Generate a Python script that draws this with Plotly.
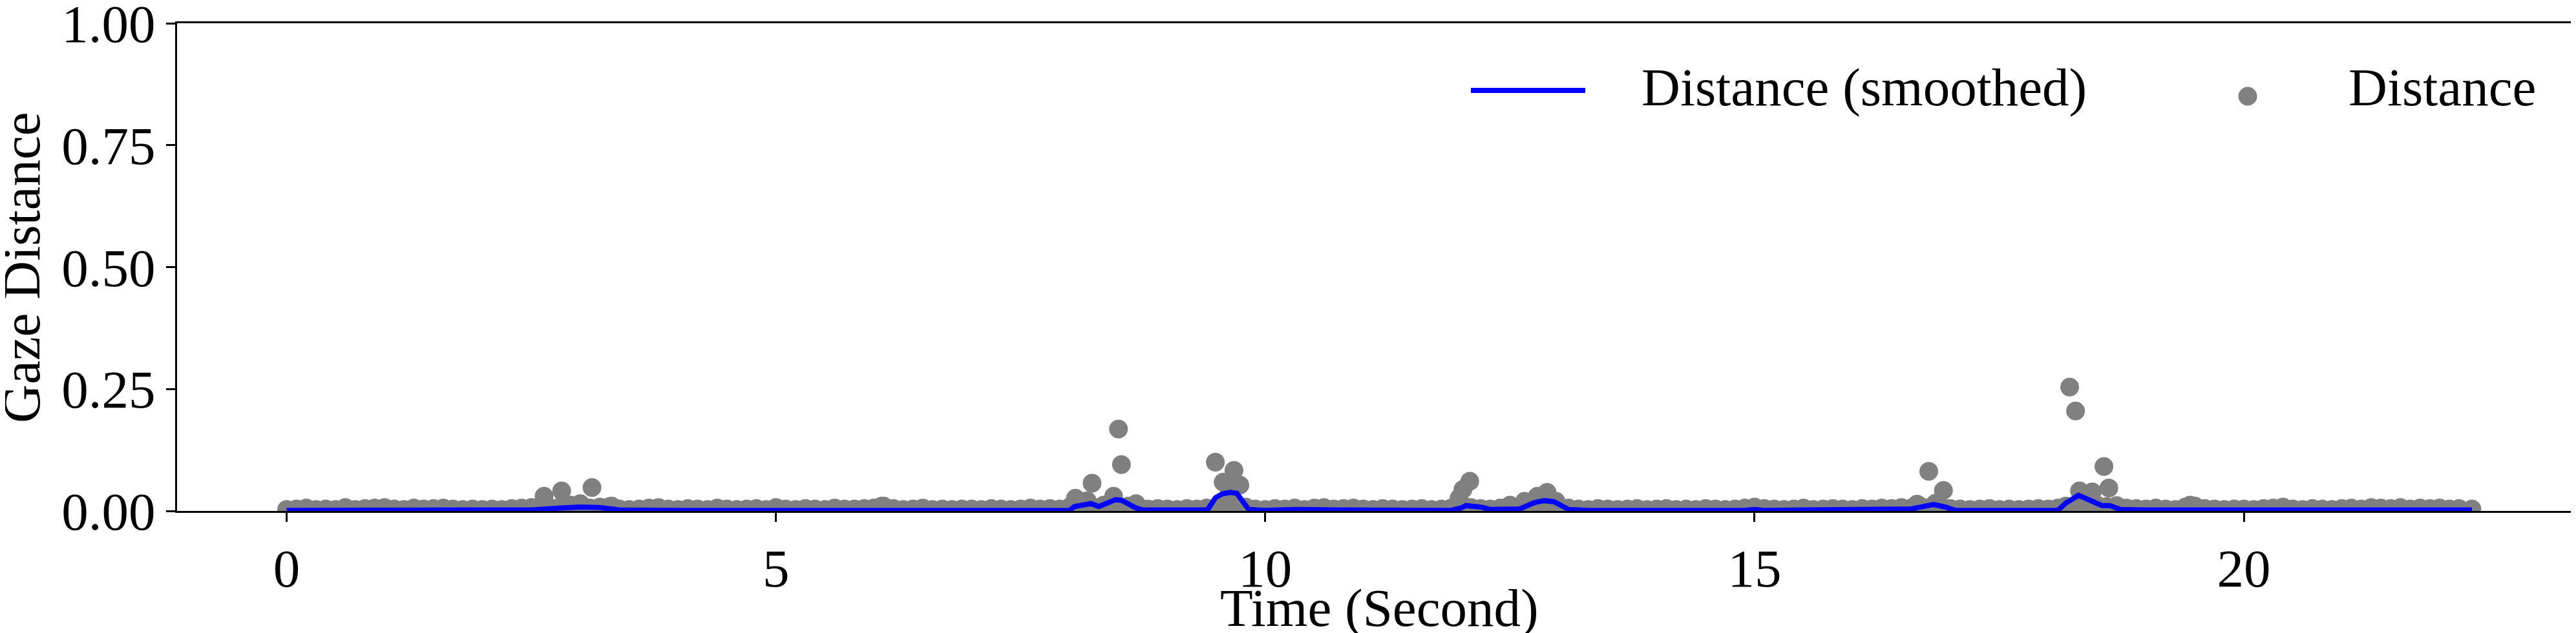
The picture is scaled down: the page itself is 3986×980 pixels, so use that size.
import plotly.graph_objects as go

# raw gaze distance, sampled every 0.1 s (baseline part)
base_time = [
    0.0, 0.1, 0.2, 0.3, 0.4, 0.5, 0.6, 0.7, 0.8, 0.9,
    1.0, 1.1, 1.2, 1.3, 1.4, 1.5, 1.6, 1.7, 1.8, 1.9,
    2.0, 2.1, 2.2, 2.3, 2.4, 2.5, 2.6, 2.7, 2.8, 2.9,
    3.0, 3.1, 3.2, 3.3, 3.4, 3.5, 3.6, 3.7, 3.8, 3.9,
    4.0, 4.1, 4.2, 4.3, 4.4, 4.5, 4.6, 4.7, 4.8, 4.9,
    5.0, 5.1, 5.2, 5.3, 5.4, 5.5, 5.6, 5.7, 5.8, 5.9,
    6.0, 6.1, 6.2, 6.3, 6.4, 6.5, 6.6, 6.7, 6.8, 6.9,
    7.0, 7.1, 7.2, 7.3, 7.4, 7.5, 7.6, 7.7, 7.8, 7.9,
    8.0, 8.1, 8.2, 8.3, 8.4, 8.5, 8.6, 8.7, 8.8, 8.9,
    9.0, 9.1, 9.2, 9.3, 9.4, 9.5, 9.6, 9.7, 9.8, 9.9,
    10.0, 10.1, 10.2, 10.3, 10.4, 10.5, 10.6, 10.7, 10.8, 10.9,
    11.0, 11.1, 11.2, 11.3, 11.4, 11.5, 11.6, 11.7, 11.8, 11.9,
    12.0, 12.1, 12.2, 12.3, 12.4, 12.5, 12.6, 12.7, 12.8, 12.9,
    13.0, 13.1, 13.2, 13.3, 13.4, 13.5, 13.6, 13.7, 13.8, 13.9,
    14.0, 14.1, 14.2, 14.3, 14.4, 14.5, 14.6, 14.7, 14.8, 14.9,
    15.0, 15.1, 15.2, 15.3, 15.4, 15.5, 15.6, 15.7, 15.8, 15.9,
    16.0, 16.1, 16.2, 16.3, 16.4, 16.5, 16.6, 16.7, 16.8, 16.9,
    17.0, 17.1, 17.2, 17.3, 17.4, 17.5, 17.6, 17.7, 17.8, 17.9,
    18.0, 18.1, 18.2, 18.3, 18.4, 18.5, 18.6, 18.7, 18.8, 18.9,
    19.0, 19.1, 19.2, 19.3, 19.4, 19.5, 19.6, 19.7, 19.8, 19.9,
    20.0, 20.1, 20.2, 20.3, 20.4, 20.5, 20.6, 20.7, 20.8, 20.9,
    21.0, 21.1, 21.2, 21.3, 21.4, 21.5, 21.6, 21.7, 21.8, 21.9,
    22.0, 22.1, 22.2, 22.33,
]
base_dist = [
    0.003, 0.004, 0.006, 0.003, 0.004, 0.003, 0.007, 0.003, 0.005, 0.006,
    0.007, 0.004, 0.003, 0.006, 0.004, 0.005, 0.006, 0.004, 0.003, 0.004,
    0.003, 0.004, 0.003, 0.005, 0.006, 0.007, 0.004, 0.006, 0.009, 0.008,
    0.010, 0.006, 0.008, 0.009, 0.004, 0.003, 0.004, 0.006, 0.007, 0.004,
    0.003, 0.005, 0.004, 0.003, 0.006, 0.004, 0.003, 0.004, 0.005, 0.003,
    0.007, 0.004, 0.003, 0.005, 0.004, 0.003, 0.006, 0.004, 0.004, 0.005,
    0.006, 0.010, 0.005, 0.003, 0.004, 0.006, 0.003, 0.004, 0.003, 0.004,
    0.004, 0.003, 0.005, 0.004, 0.003, 0.004, 0.006, 0.004, 0.005, 0.004,
    0.008, 0.009, 0.006, 0.007, 0.005, 0.008, 0.010, 0.009, 0.004, 0.005,
    0.004, 0.003, 0.005, 0.004, 0.006, 0.005, 0.010, 0.012, 0.008, 0.004,
    0.003, 0.005, 0.004, 0.006, 0.003, 0.006, 0.007, 0.004, 0.005, 0.006,
    0.004, 0.003, 0.005, 0.004, 0.003, 0.004, 0.005, 0.003, 0.004, 0.006,
    0.008, 0.007, 0.005, 0.004, 0.006, 0.007, 0.009, 0.011, 0.014, 0.012,
    0.009, 0.006, 0.004, 0.003, 0.005, 0.004, 0.003, 0.004, 0.005, 0.003,
    0.004, 0.005, 0.003, 0.004, 0.003, 0.005, 0.004, 0.003, 0.004, 0.006,
    0.008, 0.005, 0.004, 0.003, 0.004, 0.006, 0.003, 0.004, 0.005, 0.004,
    0.003, 0.005, 0.004, 0.006, 0.005, 0.007, 0.006, 0.009, 0.008, 0.010,
    0.005, 0.004, 0.003, 0.004, 0.005, 0.003, 0.004, 0.003, 0.004, 0.005,
    0.004, 0.006, 0.009, 0.008, 0.010, 0.012, 0.009, 0.011, 0.006, 0.005,
    0.004, 0.006, 0.004, 0.003, 0.008, 0.010, 0.005, 0.004, 0.003, 0.004,
    0.004, 0.003, 0.005, 0.006, 0.008, 0.004, 0.003, 0.005, 0.004, 0.003,
    0.005, 0.006, 0.004, 0.007, 0.006, 0.005, 0.007, 0.004, 0.006, 0.005,
    0.006, 0.004, 0.005, 0.004,
]

# the larger gaze jumps, between the regular samples
peak_time = [2.63, 2.81, 2.90, 3.00, 3.12, 3.32, 6.08,
             8.06, 8.18, 8.23, 8.35, 8.45, 8.50, 8.53, 8.68,
             9.49, 9.57, 9.60, 9.63, 9.68, 9.74,
             11.98, 12.02, 12.09, 12.50, 12.65, 12.78, 12.88, 12.97,
             16.66, 16.78, 16.85, 16.93,
             18.18, 18.22, 18.28, 18.32, 18.38, 18.45, 18.57, 18.62, 19.45]
peak_dist = [0.030, 0.041, 0.012, 0.015, 0.048, 0.010, 0.010,
             0.026, 0.021, 0.057, 0.012, 0.030, 0.168, 0.095, 0.015,
             0.100, 0.059, 0.017, 0.045, 0.083, 0.053,
             0.026, 0.044, 0.061, 0.012, 0.020, 0.030, 0.038, 0.020,
             0.014, 0.081, 0.016, 0.042,
             0.010, 0.254, 0.205, 0.041, 0.012, 0.039, 0.091, 0.047, 0.012]

# smoothed distance curve
smooth_time = [0.0, 1.0, 1.3, 1.6, 2.0, 2.5, 2.8, 3.0, 3.2, 3.4, 4.0, 5.0,
               6.0, 6.2, 6.5, 8.0, 8.05, 8.22, 8.30, 8.47, 8.53, 8.68, 8.75,
               9.41, 9.49, 9.56, 9.64, 9.71, 9.83, 10.0, 10.3, 10.7,
               11.9, 12.0, 12.05, 12.2, 12.3, 12.6, 12.75, 12.85, 12.95, 13.1, 13.3,
               14.9, 15.0, 15.1, 16.4, 16.6, 16.75, 16.83, 16.95, 17.05,
               18.1, 18.18, 18.31, 18.45, 18.55, 18.63, 18.74, 19.0, 20.0, 21.0, 22.33]
smooth_dist = [0.001, 0.001, 0.003, 0.003, 0.001, 0.002, 0.006, 0.008, 0.007, 0.002, 0.001, 0.002,
               0.002, 0.003, 0.001, 0.001, 0.009, 0.015, 0.009, 0.023, 0.022, 0.006, 0.002,
               0.002, 0.027, 0.035, 0.038, 0.036, 0.003, 0.001, 0.003, 0.002,
               0.001, 0.006, 0.011, 0.008, 0.003, 0.004, 0.017, 0.021, 0.019, 0.003, 0.001,
               0.001, 0.003, 0.001, 0.002, 0.004, 0.010, 0.013, 0.008, 0.001,
               0.001, 0.016, 0.032, 0.020, 0.011, 0.011, 0.003, 0.002, 0.002, 0.003, 0.002]

FONT = "Liberation Serif, Times New Roman, serif"
W, H = 3986, 980
ML, MR, MT, MB = 266, 1, 28, 197

fig = go.Figure()

fig.add_trace(go.Scatter(x=base_time + peak_time, y=base_dist + peak_dist,
                         mode="markers", name="Distance",
                         marker=dict(color="#808080", size=29, line=dict(width=0))))
fig.add_trace(go.Scatter(x=smooth_time, y=smooth_dist, mode="lines",
                         name="Distance (smoothed)",
                         line=dict(color="#0000ff", width=8)))

axis_style = dict(showline=True, linecolor="black", linewidth=3, mirror=True,
                  ticks="outside", ticklen=14, tickwidth=3, tickcolor="black",
                  showgrid=False, zeroline=False, ticklabeloverflow="allow",
                  tickfont=dict(family=FONT, size=83, color="black"))

fig.update_xaxes(range=[-1.12, 23.44], tickvals=[0, 5, 10, 15, 20], **axis_style)
fig.update_yaxes(range=[0, 1], tickvals=[0, 0.25, 0.5, 0.75, 1.0], tickformat=".2f",
                 **axis_style)

# pixel -> paper helpers for the hand placed texts and legend
pw = W - ML - MR
ph = H - MT - MB
def px(x):
    return (x - ML) / pw
def py(y):
    return (H - MB - y) / ph

text_font = dict(family=FONT, size=83, color="black")

# axis titles
fig.add_annotation(text="Time (Second)", xref="paper", yref="paper",
                   x=px(2126), y=py(933), xanchor="center", yanchor="middle",
                   showarrow=False, font=text_font)
fig.add_annotation(text="Gaze Distance", xref="paper", yref="paper",
                   x=px(25), y=py(406), xanchor="center", yanchor="middle",
                   textangle=-90, showarrow=False, font=text_font)

# legend drawn by hand (no frame, two entries side by side)
fig.add_shape(type="line", xref="paper", yref="paper",
              x0=px(2268), x1=px(2445), y0=py(132), y1=py(132),
              line=dict(color="#0000ff", width=8))
fig.add_shape(type="circle", xref="paper", yref="paper",
              xsizemode="pixel", ysizemode="pixel",
              xanchor=px(3470), yanchor=py(141),
              x0=-14.5, x1=14.5, y0=-14.5, y1=14.5,
              fillcolor="#808080", line=dict(width=0))
fig.add_annotation(text="Distance (smoothed)", xref="paper", yref="paper",
                   x=px(2530), y=py(127), xanchor="left", yanchor="middle",
                   showarrow=False, font=text_font)
fig.add_annotation(text="Distance", xref="paper", yref="paper",
                   x=px(3624), y=py(127), xanchor="left", yanchor="middle",
                   showarrow=False, font=text_font)

fig.update_layout(width=W, height=H, showlegend=False,
                  margin=dict(l=ML, r=MR, t=MT, b=MB, autoexpand=False),
                  plot_bgcolor="white", paper_bgcolor="white")

fig.write_html("out.html")
